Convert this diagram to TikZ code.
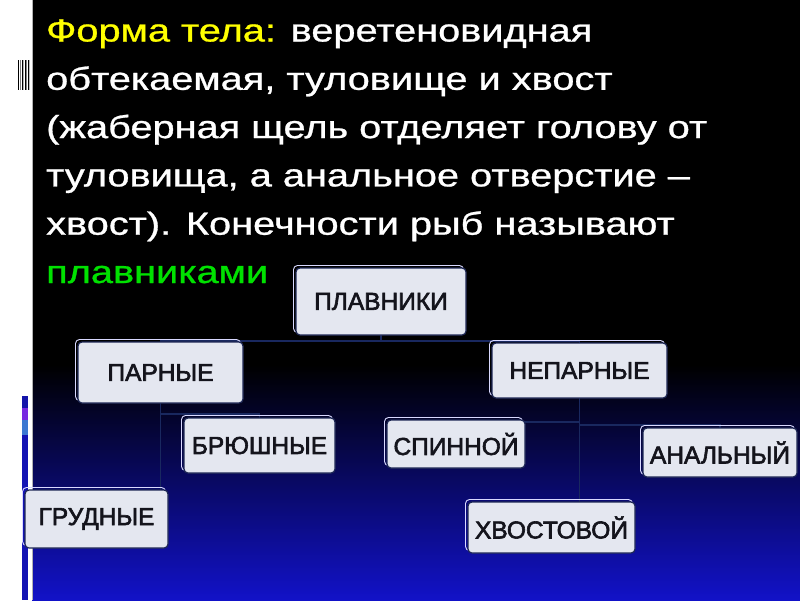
\documentclass[tikz,border=0pt]{standalone}
\usepackage{fontspec}
\usepackage{graphicx}
\setmainfont{Liberation Sans}
\newfontfamily\boxfont[FakeBold=2.5]{Liberation Sans}
\newfontfamily\bodyfont[FakeBold=0.8]{Liberation Sans}
\definecolor{bluebot}{RGB}{18,18,200}
\definecolor{boxfill}{RGB}{228,231,240}
\definecolor{boxline}{RGB}{30,40,85}
\definecolor{conn}{RGB}{25,40,95}
\definecolor{ylw}{RGB}{255,255,0}
\definecolor{grn}{RGB}{0,225,0}
\definecolor{boxtext}{RGB}{20,20,28}
\definecolor{stripA}{RGB}{20,20,170}
\definecolor{stripB}{RGB}{120,40,225}
\definecolor{stripC}{RGB}{60,120,210}
\definecolor{stripD}{RGB}{20,20,180}
\tikzset{
  orgbox/.style={draw=boxline, line width=1.2pt, fill=boxfill, rounded corners=4pt,
    text=boxtext, font=\boxfont\fontsize{24.5}{28}\selectfont, inner sep=0pt},
  halo/.style={draw=white!85!blue, line width=0.9pt, rounded corners=4pt},
  connector/.style={draw=conn, line width=1.6pt},
  bodytext/.style={anchor=base west, inner sep=0pt, text=white, font=\bodyfont\fontsize{32}{38}\selectfont}
}
\newcommand{\orgnode}[6]{%
  \draw[halo] (#2-#4/2-2.5, #3-#5/2-2.5) rectangle (#2+#4/2-2.5, #3+#5/2-2.5);
  \node[orgbox, minimum width=#4pt, minimum height=#5pt] (#1) at (#2,#3) {#6};
}
\newcommand{\wide}[1]{\scalebox{1.242}[1]{#1}}
\begin{document}
\begin{tikzpicture}[x=1pt,y=-1pt]
\useasboundingbox (0,0) rectangle (800,600);
% background
\fill[white] (0,0) rectangle (800,600);
\fill[black] (32,0) rectangle (800,600);
\shade[top color=black, bottom color=bluebot] (32,365) rectangle (800,600);
\draw[gray!60, line width=0.8pt] (32,0) -- (32,600);
% left strip decorations
\foreach \xx/\cc in {18/black,20/gray,21.5/black,23/gray!60,24.5/black,26/gray,27.5/black,29/gray!50}{
  \fill[\cc] (\xx,60) rectangle ++(1.2,30);
}
\fill[stripA] (22,396) rectangle (28,408);
\fill[stripB] (22,408) rectangle (28,420);
\fill[stripC] (22,420) rectangle (28,435);
\fill[stripD] (22,435) rectangle (28,600);
% body text
\node[bodytext] (l1) at (46,41.5) {\wide{\textcolor{ylw}{Форма тела:} веретеновидная}};
\node[bodytext] (l2) at (46,89.8) {\wide{обтекаемая, туловище и хвост}};
\node[bodytext] (l3) at (46,138.1) {\wide{(жаберная щель отделяет голову от}};
\node[bodytext] (l4) at (46,186.4) {\wide{туловища, а анальное отверстие –}};
\node[bodytext] (l5) at (46,234.7) {\wide{хвост). Конечности рыб называют}};
\node[bodytext, text=grn] (l6) at (46,283) {\wide{плавниками}};
% connectors
\coordinate (bus) at (0,341);
\coordinate (pbr) at (0,414);
\coordinate (sbr) at (0,422);
\coordinate (abr) at (0,425);
\coordinate (plavS) at (381,335);
\coordinate (parnS) at (160.5,403);
\coordinate (neparS) at (579.5,398);
\draw[connector] (plavS) -- (plavS |- bus) -| (160.5,345);
\draw[connector] (plavS |- bus) -| (579.5,346);
\draw[connector] (parnS) -- (160.5,495);
\draw[connector] (parnS |- pbr) -| (259.5,421);
\draw[connector] (neparS) -- (579.5,505);
\draw[connector] (neparS |- sbr) -| (456,424);
\draw[connector] (neparS |- abr) -| (720,431);
% boxes
\orgnode{plav}{381}{301.5}{170}{67}{ПЛАВНИКИ}
\orgnode{parn}{160.5}{372.5}{165}{61}{ПАРНЫЕ}
\orgnode{nepar}{579.5}{370.5}{175}{55}{НЕПАРНЫЕ}
\orgnode{bryush}{259.5}{445.5}{151}{55}{БРЮШНЫЕ}
\orgnode{spin}{456}{444}{138}{48}{СПИННОЙ}
\orgnode{anal}{720}{452.5}{154}{49}{АНАЛЬНЫЙ}
\orgnode{grud}{96.5}{519}{143}{58}{ГРУДНЫЕ}
\orgnode{hvost}{551.5}{527.5}{167}{51}{ХВОСТОВОЙ}
\end{tikzpicture}
\end{document}
